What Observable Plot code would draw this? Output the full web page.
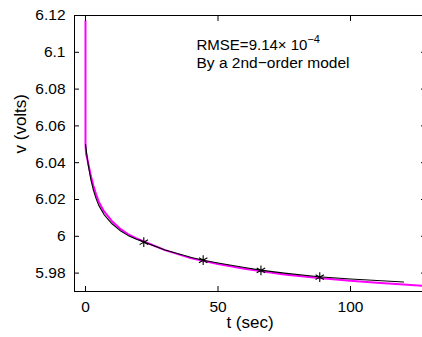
<!DOCTYPE html>
<html><head><meta charset="utf-8">
<script src="https://cdn.jsdelivr.net/npm/d3@7"></script>
<script src="https://cdn.jsdelivr.net/npm/@observablehq/plot@0.6"></script>
<style>body{margin:0;background:#fff} svg{display:block}</style>
</head><body><div id="chart"></div>
<script>
// measured voltage (magenta)
const measTime = [0, 0, 0.2, 1, 2, 3, 4, 5, 7, 10, 13, 16, 19, 22, 30, 40, 50, 60, 75, 88, 100, 110, 120, 128];
const measVolt = [6.117, 6.05, 6.045, 6.040, 6.033, 6.0275, 6.0228, 6.0188, 6.0135, 6.0082, 6.0042, 6.0012, 5.9990, 5.9972, 5.9925, 5.9880, 5.9850, 5.9824, 5.9793, 5.9773, 5.9758, 5.9748, 5.9738, 5.9731];
// 2nd-order model (black)
const modelTime = [0, 1, 2, 3, 4, 5, 7, 10, 13, 16, 19, 22, 30, 40, 44, 50, 60, 66, 75, 88, 100, 110, 120];
const modelVolt = [6.050, 6.039, 6.031, 6.025, 6.0205, 6.0168, 6.0118, 6.0068, 6.0032, 6.0005, 5.9985, 5.9969, 5.9926, 5.9885, 5.9871, 5.9855, 5.9830, 5.9816, 5.9800, 5.9780, 5.9768, 5.9760, 5.9752];
// asterisk markers
const markTime = [22, 44.4, 66.2, 88.4];
const markVolt = [5.9968, 5.9870, 5.9815, 5.9778];
const xTicks = [0, 50, 100];
const yTicks = [5.98, 6.00, 6.02, 6.04, 6.06, 6.08, 6.10, 6.12];
const note1 = "RMSE=9.14\u00d7 10";
const noteExp = "\u22124";
const note2 = "By a 2nd\u2212order model";

const meas = measTime.map((t, i) => ({t, v: measVolt[i]}));
const model = modelTime.map((t, i) => ({t, v: modelVolt[i]}));
const marks = markTime.map((t, i) => ({t, v: markVolt[i]}));
const fmt = d => String(+d.toFixed(2));

const chart = Plot.plot({
  width: 422, height: 337,
  marginLeft: 74, marginRight: -3, marginTop: 15, marginBottom: 46,
  style: {fontFamily: "'Liberation Sans', Arial, sans-serif", fontSize: "15.5px", background: "#fff", color: "#000"},
  x: {domain: [-4.15, 128.3], label: null},
  y: {domain: [5.97, 6.12], label: null},
  marks: [
    Plot.line(meas, {x: "t", y: "v", stroke: "#ff00ff", strokeWidth: 2, clip: true}),
    Plot.line(model, {x: "t", y: "v", stroke: "#000", strokeWidth: 1.1, clip: true}),
    Plot.dot(marks, {x: "t", y: "v", symbol: "asterisk", r: 4.6, stroke: "#000", strokeWidth: 1.1}),
    Plot.frame({stroke: "#000", strokeWidth: 1}),
    Plot.axisX(xTicks, {anchor: "bottom", tickSize: -5, tickPadding: 14, tickFormat: fmt, fontSize: 15.5}),
    Plot.axisX(xTicks, {anchor: "top", tickSize: -5, tickFormat: () => ""}),
    Plot.axisY(yTicks, {anchor: "left", tickSize: -5, tickPadding: 14, tickFormat: fmt, fontSize: 15.5}),
    Plot.axisY(yTicks, {anchor: "right", tickSize: -5, tickFormat: () => ""}),
    Plot.text([note1], {x: 41.9, y: 6.1037, text: d => d, textAnchor: "start", fontSize: 15}),
    Plot.text([note2], {x: 41.9, y: 6.0942, text: d => d, textAnchor: "start", fontSize: 15.5}),
    Plot.text(["t (sec)"], {frameAnchor: "bottom", text: d => d, dy: 36, fontSize: 17}),
    Plot.text(["v (volts)"], {frameAnchor: "left", text: d => d, rotate: -90, dx: -54, fontSize: 17})
  ]
});
document.getElementById("chart").appendChild(chart);
// add the superscript exponent as real text
for (const t of chart.querySelectorAll("text")) {
  if (t.textContent === note1) {
    const ts = document.createElementNS("http://www.w3.org/2000/svg", "tspan");
    ts.setAttribute("dy", "-7");
    ts.setAttribute("font-size", "11");
    ts.textContent = noteExp;
    t.appendChild(ts);
  }
}
</script>
</body></html>
